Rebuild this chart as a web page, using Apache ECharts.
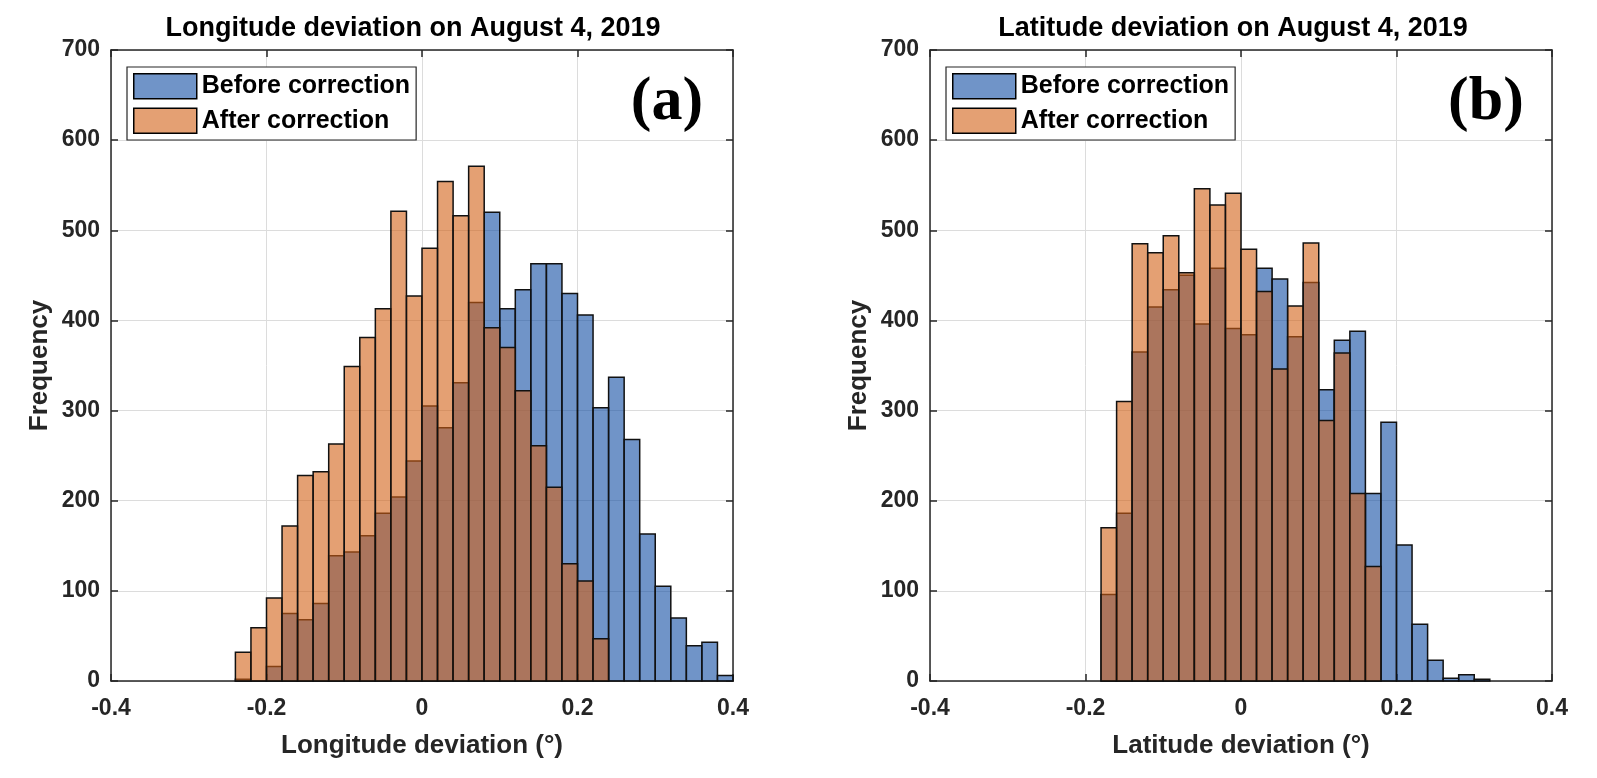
<!DOCTYPE html>
<html>
<head>
<meta charset="utf-8">
<title>Longitude / Latitude deviation histograms</title>
<script src="https://cdn.jsdelivr.net/npm/echarts@6/dist/echarts.min.js"></script>
<style>
  html, body { margin: 0; padding: 0; background: #fff; }
  #chart { width: 1597px; height: 778px; }
</style>
</head>
<body>
<div id="chart"></div>
<script>
// bin edges (width 0.02)
var lonEdges = [-0.24, -0.22, -0.20, -0.18, -0.16, -0.14, -0.12, -0.10, -0.08, -0.06, -0.04, -0.02,
    0, 0.02, 0.04, 0.06, 0.08, 0.10, 0.12, 0.14, 0.16, 0.18, 0.20, 0.22, 0.24, 0.26, 0.28, 0.30,
    0.32, 0.34, 0.36, 0.38, 0.40];
var latEdges = [-0.18, -0.16, -0.14, -0.12, -0.10, -0.08, -0.06, -0.04, -0.02, 0, 0.02, 0.04,
    0.06, 0.08, 0.10, 0.12, 0.14, 0.16, 0.18, 0.20, 0.22, 0.24, 0.26, 0.28, 0.30, 0.32];

// counts per bin
var lonBefore = [2, 0, 16, 75, 68, 86, 139, 143, 161, 186, 204, 244, 305, 281, 331, 420, 520, 413,
    434, 463, 463, 430, 406, 303, 337, 268, 163, 105, 70, 39, 43, 6];
var lonAfter = [32, 59, 92, 172, 228, 232, 263, 349, 381, 413, 521, 427, 480, 554, 516, 571, 392,
    370, 322, 261, 215, 130, 111, 47];
var latBefore = [96, 186, 365, 415, 434, 450, 396, 458, 391, 384, 458, 446, 382, 442, 323, 378,
    388, 208, 287, 151, 63, 23, 3, 7, 2];
var latAfter = [170, 310, 485, 475, 494, 453, 546, 528, 541, 479, 432, 346, 416, 486, 289, 364,
    208, 127];

var xTicks = [-0.4, -0.2, 0, 0.2, 0.4];
var xTickLabels = ['-0.4', '-0.2', '0', '0.2', '0.4'];
var seriesNames = ['Before correction', 'After correction'];

var FONT = "'Liberation Sans', Arial, Helvetica, sans-serif";
var AXIS = '#262626';
var BLUE = 'rgba(17, 77, 163, 0.6)';
var ORANGE = 'rgba(210, 97, 22, 0.6)';

function hist(edges, counts) {
    return counts.map(function (c, i) { return [edges[i], edges[i + 1], c]; });
}

function renderBar(params, api) {
    var p0 = api.coord([api.value(0), api.value(2)]);
    var p1 = api.coord([api.value(1), 0]);
    return {
        type: 'rect',
        shape: { x: p0[0], y: p0[1], width: p1[0] - p0[0], height: p1[1] - p0[1] },
        style: { fill: api.visual('color'), stroke: '#111', lineWidth: 1.5 }
    };
}

function xAxes(grid, name) {
    return [{
        type: 'value', gridIndex: grid, position: 'bottom',
        min: -0.4, max: 0.4, interval: 0.2,
        name: name, nameLocation: 'middle', nameGap: 52,
        nameTextStyle: { fontFamily: FONT, fontSize: 26, fontWeight: 'bold', color: AXIS },
        axisLine: { onZero: false, lineStyle: { color: AXIS, width: 1.5 } },
        axisTick: { inside: true, length: 7, lineStyle: { color: AXIS, width: 1.5 } },
        axisLabel: {
            margin: 16, fontFamily: FONT, fontSize: 23, fontWeight: 'bold', color: AXIS,
            formatter: function (v) {
                var i = xTicks.findIndex(function (t) { return Math.abs(t - v) < 1e-9; });
                return i >= 0 ? xTickLabels[i] : '';
            }
        },
        splitLine: { show: true, lineStyle: { color: '#dcdcdc', width: 1 } }
    }, {
        type: 'value', gridIndex: grid, position: 'top',
        min: -0.4, max: 0.4, interval: 0.2,
        axisLine: { onZero: false, lineStyle: { color: AXIS, width: 1.5 } },
        axisTick: { inside: true, length: 7, lineStyle: { color: AXIS, width: 1.5 } },
        axisLabel: { show: false },
        splitLine: { show: false }
    }];
}

function yAxes(grid) {
    return [{
        type: 'value', gridIndex: grid, position: 'left',
        min: 0, max: 700, interval: 100,
        name: 'Frequency', nameLocation: 'middle', nameGap: 58,
        nameTextStyle: { fontFamily: FONT, fontSize: 26, fontWeight: 'bold', color: AXIS },
        axisLine: { show: true, onZero: false, lineStyle: { color: AXIS, width: 1.5 } },
        axisTick: { show: true, inside: true, length: 7, lineStyle: { color: AXIS, width: 1.5 } },
        axisLabel: { margin: 11, fontFamily: FONT, fontSize: 23, fontWeight: 'bold', color: AXIS },
        splitLine: { show: true, lineStyle: { color: '#dcdcdc', width: 1 } }
    }, {
        type: 'value', gridIndex: grid, position: 'right',
        min: 0, max: 700, interval: 100,
        axisLine: { show: true, onZero: false, lineStyle: { color: AXIS, width: 1.5 } },
        axisTick: { show: true, inside: true, length: 7, lineStyle: { color: AXIS, width: 1.5 } },
        axisLabel: { show: false },
        splitLine: { show: false }
    }];
}

function legendAt(left) {
    return {
        data: seriesNames, orient: 'vertical', left: left, top: 67,
        padding: [6, 6, 6, 6], itemGap: 8, itemWidth: 63, itemHeight: 25,
        icon: 'rect', backgroundColor: '#fff', borderColor: AXIS, borderWidth: 1.2,
        itemStyle: { borderColor: '#000', borderWidth: 1.5 },
        textStyle: { fontFamily: FONT, fontSize: 25, fontWeight: 'bold', color: '#000' },
        selectedMode: false
    };
}

function histSeries(name, color, axis, data) {
    return {
        type: 'custom', name: name, xAxisIndex: axis, yAxisIndex: axis,
        itemStyle: { color: color },
        encode: { x: [0, 1], y: 2 },
        renderItem: renderBar,
        data: data
    };
}

function label(text, x, y, size, family) {
    return {
        type: 'text', x: x, y: y,
        style: {
            text: text, fill: '#000', font: 'bold ' + size + 'px ' + family,
            align: 'center', verticalAlign: 'middle', textAlign: 'center', textVerticalAlign: 'middle'
        }
    };
}

var chart = echarts.init(document.getElementById('chart'));
chart.setOption({
    animation: false,
    backgroundColor: '#fff',
    grid: [
        { left: 111, top: 50, width: 622, height: 631 },
        { left: 930, top: 50, width: 622, height: 631 }
    ],
    xAxis: xAxes(0, 'Longitude deviation (°)').concat(xAxes(1, 'Latitude deviation (°)')),
    yAxis: yAxes(0).concat(yAxes(1)),
    legend: [legendAt(127), legendAt(946)],
    graphic: [
        label('Longitude deviation on August 4, 2019', 413, 29, 27, FONT),
        label('Latitude deviation on August 4, 2019', 1233, 29, 27, FONT),
        label('(a)', 667, 103, 62, "'Liberation Serif', 'Times New Roman', serif"),
        label('(b)', 1486, 103, 62, "'Liberation Serif', 'Times New Roman', serif")
    ],
    series: [
        histSeries(seriesNames[0], BLUE, 0, hist(lonEdges, lonBefore)),
        histSeries(seriesNames[1], ORANGE, 0, hist(lonEdges, lonAfter)),
        histSeries(seriesNames[0], BLUE, 2, hist(latEdges, latBefore)),
        histSeries(seriesNames[1], ORANGE, 2, hist(latEdges, latAfter))
    ]
});
</script>
</body>
</html>
